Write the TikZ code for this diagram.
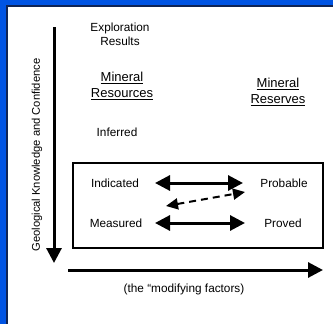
\documentclass[tikz,border=0pt]{standalone}
\usepackage{fontspec}
\setmainfont{Liberation Sans}
\usepackage{tikz}
\usetikzlibrary{arrows.meta}
\definecolor{frameblue}{RGB}{0,84,227}
\definecolor{frameline}{RGB}{16,36,84}
\tikzset{
  lbl/.style={font=\fontsize{11.8}{14}\selectfont, inner sep=0pt},
  head/.style={font=\fontsize{13}{16}\selectfont, inner sep=0pt, align=center},
  bigarrow/.style={line width=3pt, -{Triangle[width=15pt,length=15pt]}},
  dbl/.style={line width=3pt, {Triangle[width=15pt,length=15pt]}-{Triangle[width=15pt,length=15pt]}},
  dsh/.style={line width=2pt, dash pattern=on 7pt off 5pt, {Triangle[width=11pt,length=12pt]}-{Triangle[width=11pt,length=12pt]}},
}
\begin{document}
\begin{tikzpicture}[x=1pt,y=-1pt]
    \useasboundingbox (0,0) rectangle (333,324);
    % frame
    \fill[white] (0,0) rectangle (333,324);
    \fill[frameblue] (0,0) rectangle (333,5) (0,0) rectangle (6,324);
    \draw[frameline, line width=1.5pt] (6.75,324) -- (6.75,5.75) -- (333,5.75);
    % texts
    \node[lbl, align=center] (expl) at (120, 34) {Exploration\\Results};
    \node[head] (mres)  at (122, 86) {\underline{Mineral}\\\underline{Resources}};
    \node[head] (mresv) at (278, 92) {\underline{Mineral}\\\underline{Reserves}};
    \node[lbl] (inf)  at (117,132) {Inferred};
    \node[lbl] (ind)  at (115,183) {Indicated};
    \node[lbl] (meas) at (116,223) {Measured};
    \node[lbl] (prob) at (284,183) {Probable};
    \node[lbl] (prov) at (283,223) {Proved};
    \node[lbl, font=\fontsize{11.2}{13}\selectfont, rotate=90] (geo) at (37,155) {Geological Knowledge and Confidence};
    \node[lbl] (mod) at (184,289) {(the “modifying factors)};
    % box
    \draw[line width=2pt] (73,163) rectangle (323,248);
    % axes
    \coordinate (vtop) at (54, 27);
    \coordinate (vbot) at (54,263);
    \coordinate (hl) at ( 68,270);
    \coordinate (hr) at (323,270);
    \draw (vtop) edge[bigarrow] (vbot);
    \draw (hl) edge[bigarrow] (hr);
    % links
    \coordinate (i1) at (155,183);
    \coordinate (p1) at (243,183);
    \coordinate (m1) at (155,223);
    \coordinate (p2) at (245,223);
    \coordinate (d1) at (166,206);
    \coordinate (d2) at (245,192);
    \draw (i1) edge[dbl] (p1);
    \draw (m1) edge[dbl] (p2);
    \draw (d1) edge[dsh] (d2);
\end{tikzpicture}
\end{document}
